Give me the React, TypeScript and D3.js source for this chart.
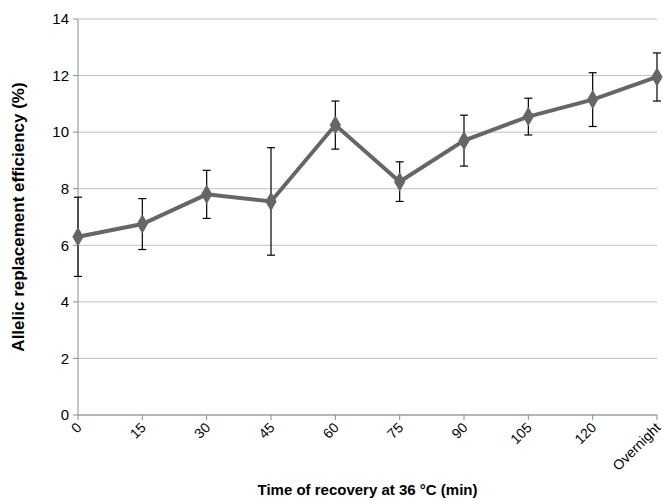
import * as d3 from 'd3';

const categories = ['0', '15', '30', '45', '60', '75', '90', '105', '120', 'Overnight'];
const means = [6.3, 6.75, 7.8, 7.55, 10.25, 8.25, 9.7, 10.55, 11.15, 11.95];
const errors = [1.4, 0.9, 0.85, 1.9, 0.85, 0.7, 0.9, 0.65, 0.95, 0.85];
const yTicks = [0, 2, 4, 6, 8, 10, 12, 14];

export default function App() {
    const width = 663;
    const height = 501;
    const left = 78, right = 657, top = 19, bottom = 415;

    const x = d3.scalePoint<string>().domain(categories).range([left, right]);
    const y = d3.scaleLinear().domain([0, 14]).range([bottom, top]);

    const line = d3.line<number>()
        .x((_, i) => x(categories[i]) as number)
        .y(d => y(d));

    const diamond = d3.symbol().type(d3.symbolDiamond).size(110)();
    const font = 'Arial, "Liberation Sans", sans-serif';

    return (
        <svg width={width} height={height} style={{ position: 'absolute', left: 0, top: 0, background: '#fff' }}>
            {yTicks.map(t => (
                <g key={t}>
                    <line x1={left} x2={right} y1={y(t)} y2={y(t)} stroke="#c0c0c0" strokeWidth={1} />
                    <line x1={left - 5} x2={left} y1={y(t)} y2={y(t)} stroke="#8c8c8c" />
                    <text x={left - 9} y={y(t)} dy="0.35em" textAnchor="end" fontFamily={font} fontSize={15}>{t}</text>
                </g>
            ))}
            <line x1={left} x2={left} y1={top} y2={bottom} stroke="#8c8c8c" />
            <line x1={left} x2={right} y1={bottom} y2={bottom} stroke="#8c8c8c" />
            {categories.map(c => (
                <g key={c}>
                    <line x1={x(c)} x2={x(c)} y1={bottom} y2={bottom + 5} stroke="#8c8c8c" />
                    <text transform={`translate(${(x(c) as number) + 1},${bottom + 10}) rotate(-45)`}
                        textAnchor="end" dy="0.35em" fontFamily={font} fontSize={14}>{c}</text>
                </g>
            ))}
            <path d={line(means) ?? ''} fill="none" stroke="#666666" strokeWidth={4} />
            {means.map((m, i) => {
                const cx = x(categories[i]) as number;
                return (
                    <g key={i}>
                        <line x1={cx} x2={cx} y1={y(m + errors[i])} y2={y(m - errors[i])} stroke="#000" strokeWidth={1.2} />
                        <line x1={cx - 4} x2={cx + 4} y1={y(m + errors[i])} y2={y(m + errors[i])} stroke="#000" strokeWidth={1.2} />
                        <line x1={cx - 4} x2={cx + 4} y1={y(m - errors[i])} y2={y(m - errors[i])} stroke="#000" strokeWidth={1.2} />
                        <path d={diamond ?? ''} transform={`translate(${cx},${y(m)})`} fill="#666666" />
                    </g>
                );
            })}
            <text transform={`translate(24,${(top + bottom) / 2}) rotate(-90)`} textAnchor="middle"
                fontFamily={font} fontSize={17} fontWeight="bold">Allelic replacement efficiency (%)</text>
            <text x={(left + right) / 2} y={495} textAnchor="middle" fontFamily={font} fontSize={15} fontWeight="bold">
                Time of recovery at 36 °C (min)
            </text>
        </svg>
    );
}
